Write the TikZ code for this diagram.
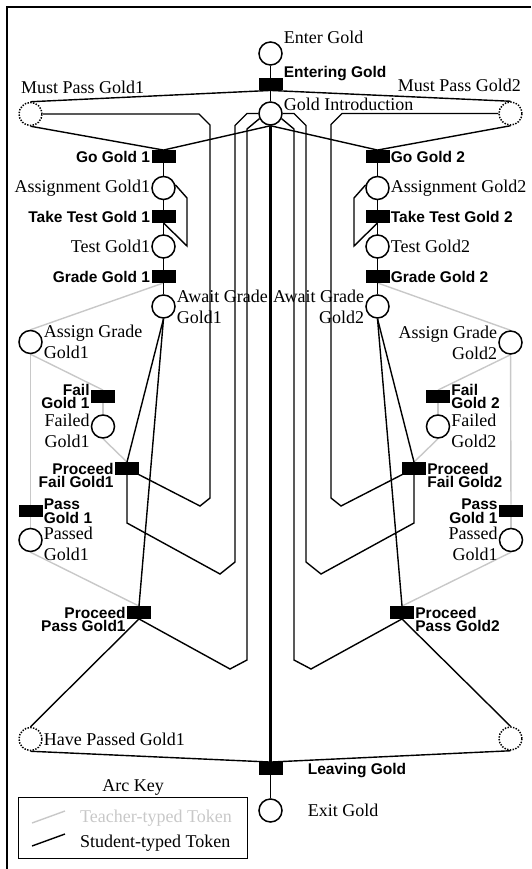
\documentclass[tikz,border=0pt]{standalone}
\usepackage{fontspec}
\setmainfont{Liberation Serif}
\setsansfont{Liberation Sans}
\usetikzlibrary{positioning}

\definecolor{teachgray}{RGB}{200,200,200}
\pgfdeclarelayer{background}
\pgfsetlayers{background,main}

\tikzset{
    place/.style={circle, draw, fill=white, line width=1.5pt, minimum size=23pt, inner sep=0pt},
    ghost/.style={place, dash pattern=on 1.4pt off 1.4pt},
    trans/.style={rectangle, fill=black, minimum width=24pt, minimum height=12.5pt, inner sep=0pt},
    plab/.style={font=\fontsize{18}{21}\selectfont, inner sep=1pt},
    tlab/.style={font=\sffamily\bfseries\fontsize{15.5}{13.5}\selectfont, inner sep=1pt},
    stud/.style={line width=1.4pt},
    teach/.style={line width=1.4pt, draw=teachgray},
}

\begin{document}
\begin{tikzpicture}[x=1pt, y=-1pt]
    \useasboundingbox (0,0) rectangle (532,869);
    % Frame
    \draw[line width=1.2pt] (7,869) -- (7,7) -- (531,7);

    % Central column
    \node[place] (enter) at (270.5,53.5) {};
    \node[trans] (entering) at (270.5,84) {};
    \node[place] (intro) at (270.5,113.5) {};
    \node[trans] (leaving) at (270.5,768.5) {};
    \node[place] (exit) at (270.5,810.5) {};
    \node[ghost] (must1) at (30.5,114) {};
    \node[ghost] (must2) at (510.5,113.5) {};

    % Gold1 chain
    \node[trans] (go1) at (163.5,156.5) {};
    \node[place] (assign1) at (163.5,188) {};
    \node[trans] (take1) at (163.5,216.5) {};
    \node[place] (test1) at (163.5,246.5) {};
    \node[trans] (grade1) at (163.5,276.5) {};
    \node[place] (await1) at (163.5,306.5) {};

    % Gold2 chain
    \node[trans] (go2) at (377.5,156.5) {};
    \node[place] (assign2) at (377.5,188) {};
    \node[trans] (take2) at (377.5,216.5) {};
    \node[place] (test2) at (377.5,246.5) {};
    \node[trans] (grade2) at (377.5,276.5) {};
    \node[place] (await2) at (377.5,306.5) {};

    % Grading Gold1
    \node[place] (agrade1) at (30.5,342) {};
    \node[trans] (fail1) at (103,396.5) {};
    \node[place] (failed1) at (103,426.5) {};
    \node[trans] (pfail1) at (127,468.5) {};
    \node[trans] (pass1) at (30.5,511) {};
    \node[place] (passed1) at (30.5,540) {};
    \node[trans] (ppass1) at (139,612.5) {};
    \node[ghost] (have1) at (30.5,739) {};

    % Grading Gold2
    \node[place] (agrade2) at (510.5,342.5) {};
    \node[trans] (fail2) at (438,396.5) {};
    \node[place] (failed2) at (438,426.5) {};
    \node[trans] (pfail2) at (414,468.5) {};
    \node[trans] (pass2) at (511,511) {};
    \node[place] (passed2) at (511,540) {};
    \node[trans] (ppass2) at (402,612.5) {};
    \node[ghost] (have2) at (510.5,738.5) {};

    % Labels
    \node[plab, anchor=base west] at ([yshift=10pt]enter.east) {Enter Gold};
    \node[tlab, anchor=base west] at (entering.north east) {Entering Gold};
    \node[plab, anchor=base west] at ([yshift=2.5pt]intro.east) {Gold Introduction};
    \node[plab, anchor=base west] at ([xshift=-10.5pt,yshift=20pt]must1.center) {Must Pass Gold1};
    \node[plab, anchor=base east] at ([xshift=11.5pt,yshift=21.5pt]must2.center) {Must Pass Gold2};
    \node[tlab, right=24pt of leaving, yshift=-2pt] {Leaving Gold};
    \node[plab, right=24pt of exit] {Exit Gold};

    \node[tlab, left=0pt of go1] {Go Gold 1};
    \node[plab, left=0pt of assign1] {Assignment Gold1};
    \node[tlab, left=0pt of take1] {Take Test Gold 1};
    \node[plab, left=0pt of test1] {Test Gold1};
    \node[tlab, left=0pt of grade1] {Grade Gold 1};
    \node[plab, right=0pt of await1, align=left] {Await Grade\\Gold1};

    \node[tlab, right=0pt of go2] {Go Gold 2};
    \node[plab, right=0pt of assign2] {Assignment Gold2};
    \node[tlab, right=0pt of take2] {Take Test Gold 2};
    \node[plab, right=0pt of test2] {Test Gold2};
    \node[tlab, right=0pt of grade2] {Grade Gold 2};
    \node[plab, left=0pt of await2, align=right] {Await Grade\\Gold2};

    \node[plab, right=0pt of agrade1, align=left] {Assign Grade\\Gold1};
    \node[tlab, left=0pt of fail1, align=right] {Fail\\Gold 1};
    \node[plab, left=0pt of failed1, yshift=-4pt, align=right] {Failed\\Gold1};
    \node[tlab, anchor=north east, align=right] at (pfail1.north west) {Proceed\\Fail Gold1};
    \node[tlab, right=0pt of pass1, align=left] {Pass\\Gold 1};
    \node[plab, right=0pt of passed1, yshift=-4pt, align=left] {Passed\\Gold1};
    \node[tlab, anchor=north east, align=right] at (ppass1.north west) {Proceed\\Pass Gold1};
    \node[plab, right=0pt of have1] {Have Passed Gold1};

    \node[plab, left=0pt of agrade2, align=right] {Assign Grade\\Gold2};
    \node[tlab, right=0pt of fail2, align=left] {Fail\\Gold 2};
    \node[plab, right=0pt of failed2, yshift=-4pt, align=left] {Failed\\Gold2};
    \node[tlab, anchor=north west, align=left] at (pfail2.north east) {Proceed\\Fail Gold2};
    \node[tlab, left=0pt of pass2, align=right] {Pass\\Gold 1};
    \node[plab, left=0pt of passed2, yshift=-4pt, align=right] {Passed\\Gold1};
    \node[tlab, anchor=north west, align=left] at (ppass2.north east) {Proceed\\Pass Gold2};

    \begin{pgfonlayer}{background}
        % Teacher-typed arcs
        \draw[teach] (grade1.south) -- (agrade1.north);
        \draw[teach] (agrade1.south) -- (fail1.north);
        \draw[teach] (agrade1) -- (pass1);
        \draw[teach] (fail1) -- (failed1);
        \draw[teach] (failed1.south) -- (pfail1.north);
        \draw[teach] (pass1) -- (passed1);
        \draw[teach] (passed1.south) -- (ppass1.north);

        \draw[teach] (grade2.south) -- (agrade2.north);
        \draw[teach] (agrade2.south) -- (fail2.north);
        \draw[teach] (agrade2) -- (pass2);
        \draw[teach] (fail2) -- (failed2);
        \draw[teach] (failed2.south) -- (pfail2.north);
        \draw[teach] (pass2) -- (passed2);
        \draw[teach] (passed2.south) -- (ppass2.north);

        % Student-typed arcs, central column
        \draw[stud] (enter) -- (entering) -- (intro);
        \draw[stud, line width=2.2pt] (intro) -- (leaving);
        \draw[stud] (leaving) -- (exit);
        \draw[stud] (entering.south) -- (must1.north);
        \draw[stud] (entering.south) -- (must2.north);
        \draw[stud] (must1.south) -- (go1.north);
        \draw[stud] (intro.south) -- (go1.north);
        \draw[stud] (intro.south) -- (go2.north);
        \draw[stud] (must2.south) -- (go2.north);

        % Chains and test loops
        \draw[stud] (go1) -- (await1);
        \draw[stud] (go2) -- (await2);
        \draw[stud] (assign1.15) -- (187,198) -- (187,246) -- (take1.south);
        \draw[stud] (assign2.165) -- (354,198) -- (354,246) -- (take2.south);

        % Failing returns to Must Pass
        \draw[stud] (must1.east) -- (199,114) -- (210,125) -- (210,498) -- (200,506) -- (pfail1.center);
        \draw[stud] (must2.west) -- (342,113.5) -- (331,124.5) -- (331,498) -- (341,506) -- (pfail2.center);

        % Returns to Gold Introduction
        \draw[stud] (intro.west) -- (247,113.5) -- (235,125.5) -- (235,562) -- (220,574) -- (127,523) -- (pfail1.south);
        \draw[stud] (intro.east) -- (294,113.5) -- (306,125.5) -- (306,562) -- (321,574) -- (414,523) -- (pfail2.south);
        \draw[stud] (intro.205) -- (247,129) -- (247,660) -- (230,669) -- (ppass1.south);
        \draw[stud] (intro.335) -- (294,129) -- (294,660) -- (311,669) -- (ppass2.south);

        % Await Grade
        \draw[stud] (await1.south) -- (pfail1.north);
        \draw[stud] (await1.south) -- (ppass1.north);
        \draw[stud] (await2.south) -- (pfail2.north);
        \draw[stud] (await2.south) -- (ppass2.north);

        % Have Passed
        \draw[stud] (ppass1.south) -- (have1.north);
        \draw[stud] (have1.south) -- (leaving.north);
        \draw[stud] (ppass2.south) -- (have2.north);
        \draw[stud] (have2.south) -- (leaving.north);
    \end{pgfonlayer}

    % Arc Key
    \node[draw, line width=1.2pt, minimum width=229pt, minimum height=61pt, anchor=north west] (key) at (18,797) {};
    \node[plab, above=0pt of key] {Arc Key};
    \draw[teach] (32,823) -- (65,811);
    \draw[stud] (32,846) -- (65,834);
    \node[plab, anchor=west, text=teachgray] at (79,818.5) {Teacher-typed Token};
    \node[plab, anchor=west] at (79,843.5) {Student-typed Token};
\end{tikzpicture}
\end{document}
